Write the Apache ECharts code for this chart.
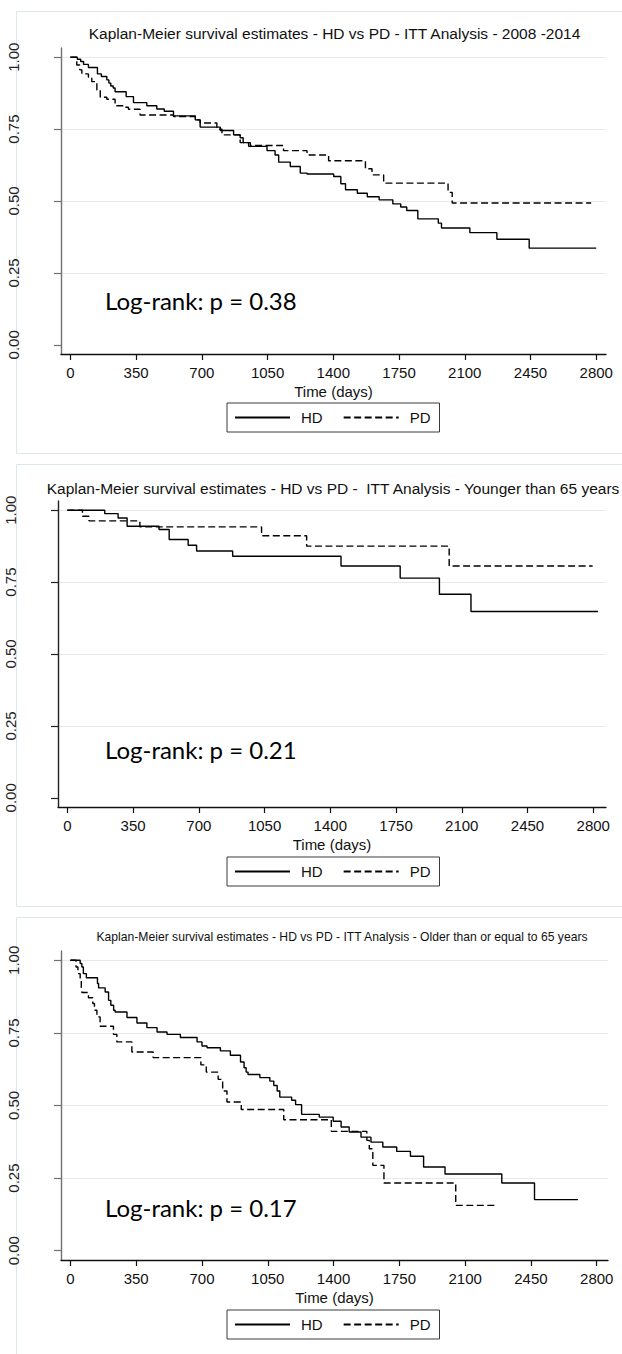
<!DOCTYPE html>
<html>
<head>
<meta charset="utf-8">
<script src="https://cdn.jsdelivr.net/npm/echarts@6/dist/echarts.min.js"></script>
<style>
  html, body { margin: 0; padding: 0; background: #ffffff; }
  #chart { width: 622px; height: 1354px; }
</style>
</head>
<body>
<div id="chart"></div>
<script>
// ---- Axis ticks ----
const yTicks = [0, 0.25, 0.5, 0.75, 1];
const yTickLabels = ['0.00', '0.25', '0.50', '0.75', '1.00'];
const xTicks = [0, 350, 700, 1050, 1400, 1750, 2100, 2450, 2800];
const xAxisTitle = 'Time (days)';
const groupNames = ['HD', 'PD'];

// ---- Panel texts ----
const panelTitles = [
  'Kaplan-Meier survival estimates - HD vs PD - ITT Analysis - 2008 -2014',
  'Kaplan-Meier survival estimates - HD vs PD -  ITT Analysis - Younger than 65 years',
  'Kaplan-Meier survival estimates - HD vs PD - ITT Analysis - Older than or equal to 65 years'
];
const logRankTexts = ['Log-rank: p = 0.38', 'Log-rank: p = 0.21', 'Log-rank: p = 0.17'];

// ---- Survival estimates: all patients, 2008-2014 ----
const hdTimeAll = [0, 37, 55, 70, 96, 144, 165, 194, 205, 215, 228, 238, 297, 336, 407, 460, 500, 549, 665, 691, 798, 869, 904, 920, 949, 1047, 1090, 1109, 1171, 1224, 1260, 1402, 1440, 1465, 1528, 1581, 1644, 1717, 1759, 1791, 1850, 1959, 1976, 2127, 2271, 2443, 2800];
const hdSurvAll = [1.0, 0.993, 0.985, 0.975, 0.964, 0.942, 0.933, 0.921, 0.91, 0.90, 0.893, 0.88, 0.863, 0.842, 0.831, 0.82, 0.812, 0.796, 0.782, 0.757, 0.745, 0.73, 0.72, 0.703, 0.69, 0.675, 0.66, 0.635, 0.62, 0.597, 0.594, 0.585, 0.56, 0.539, 0.527, 0.515, 0.504, 0.49, 0.479, 0.467, 0.438, 0.423, 0.406, 0.39, 0.367, 0.336, 0.336];
const pdTimeAll = [0, 34, 50, 61, 96, 114, 141, 159, 194, 238, 283, 309, 371, 549, 665, 691, 780, 807, 904, 958, 1135, 1260, 1375, 1571, 1606, 1668, 2011, 2033, 2773];
const pdSurvAll = [1.0, 0.973, 0.956, 0.942, 0.93, 0.915, 0.886, 0.861, 0.854, 0.831, 0.826, 0.819, 0.799, 0.794, 0.782, 0.771, 0.75, 0.73, 0.703, 0.693, 0.675, 0.66, 0.64, 0.612, 0.591, 0.562, 0.53, 0.493, 0.493];

// ---- Survival estimates: younger than 65 years ----
const hdTimeYoung = [0, 199, 270, 318, 488, 542, 643, 688, 880, 1457, 1772, 1981, 2149, 2825];
const hdSurvYoung = [1.0, 0.988, 0.973, 0.944, 0.933, 0.898, 0.878, 0.858, 0.84, 0.806, 0.764, 0.708, 0.648, 0.648];
const pdTimeYoung = [0, 80, 115, 386, 1034, 1274, 2033, 2797];
const pdSurvYoung = [1.0, 0.979, 0.963, 0.942, 0.911, 0.875, 0.806, 0.806];

// ---- Survival estimates: 65 years or older ----
const hdTimeOld = [0, 52, 61, 69, 85, 144, 150, 185, 203, 215, 230, 238, 301, 354, 407, 461, 514, 585, 674, 700, 727, 798, 851, 905, 924, 935, 945, 1008, 1061, 1082, 1100, 1114, 1177, 1198, 1230, 1324, 1398, 1440, 1483, 1546, 1599, 1662, 1736, 1809, 1879, 1993, 2295, 2469, 2700];
const hdSurvOld = [1.0, 0.989, 0.977, 0.954, 0.94, 0.92, 0.905, 0.891, 0.862, 0.845, 0.828, 0.822, 0.803, 0.784, 0.768, 0.753, 0.745, 0.734, 0.719, 0.705, 0.699, 0.688, 0.673, 0.65, 0.63, 0.615, 0.607, 0.596, 0.584, 0.569, 0.55, 0.529, 0.518, 0.503, 0.4695, 0.46, 0.446, 0.426, 0.409, 0.391, 0.374, 0.357, 0.342, 0.325, 0.288, 0.264, 0.233, 0.176, 0.176];
const pdTimeOld = [0, 30, 40, 52, 58, 61, 96, 119, 128, 141, 158, 229, 247, 327, 440, 694, 723, 786, 810, 833, 909, 1135, 1388, 1577, 1590, 1609, 1668, 2050, 2274];
const pdSurvOld = [1.0, 0.977, 0.954, 0.931, 0.908, 0.889, 0.871, 0.851, 0.828, 0.805, 0.773, 0.745, 0.719, 0.684, 0.665, 0.64, 0.615, 0.59, 0.55, 0.512, 0.486, 0.451, 0.411, 0.38, 0.351, 0.294, 0.233, 0.156, 0.156];

const panelData = [
  [[hdTimeAll, hdSurvAll], [pdTimeAll, pdSurvAll]],
  [[hdTimeYoung, hdSurvYoung], [pdTimeYoung, pdSurvYoung]],
  [[hdTimeOld, hdSurvOld], [pdTimeOld, pdSurvOld]]
];

// ---- Layout of the three stacked panels ----
const SANS = 'Liberation Sans, Arial, Helvetica, sans-serif';
const panels = [
  { frameTop: 11, frameBottom: 453, grid: { left: 61, top: 48, width: 545, height: 306 }, xMax: 2852,
    titleX: 334.5, titleY: 33, titleSize: 15.5, logY: 300.5, legendTop: 403, yAxisColor: '#707070' },
  { frameTop: 464, frameBottom: 906, grid: { left: 58, top: 501, width: 548, height: 306 }, xMax: 2868,
    titleX: 333, titleY: 488, titleSize: 15.5, logY: 749.5, legendTop: 857, yAxisColor: '#222222' },
  { frameTop: 917, frameBottom: 1400, grid: { left: 61, top: 951, width: 547, height: 309 }, xMax: 2860,
    titleX: 342, titleY: 937, titleSize: 12.15, logY: 1207, legendTop: 1310, yAxisColor: '#707070' }
];

const pairs = (t, s) => t.map((v, i) => [v, s[i]]);

const grids = [], xAxes = [], yAxes = [], series = [], legends = [], graphics = [];

panels.forEach((p, i) => {
  grids.push(Object.assign({ containLabel: false }, p.grid));

  xAxes.push({
    gridIndex: i, type: 'value', min: -50, max: p.xMax,
    name: xAxisTitle, nameLocation: 'middle', nameGap: 30,
    nameTextStyle: { fontSize: 15, color: '#111', fontFamily: SANS },
    axisLine: { onZero: false, lineStyle: { color: '#111', width: 1.3 } },
    axisTick: { show: true, length: 6, customValues: xTicks, lineStyle: { color: '#111', width: 1.2 } },
    axisLabel: { customValues: xTicks, margin: 11, fontSize: 15, color: '#111', fontFamily: SANS,
      formatter: v => String(Math.round(v)) },
    splitLine: { show: false }
  });

  yAxes.push({
    gridIndex: i, type: 'value', min: -0.032, max: 1.032,
    axisLine: { show: true, onZero: false, lineStyle: { color: p.yAxisColor, width: 1.4 } },
    axisTick: { show: true, length: 7, customValues: yTicks, lineStyle: { color: p.yAxisColor, width: 1.2 } },
    axisLabel: {
      customValues: yTicks, rotate: 90, margin: 40, fontSize: 15, color: '#222', fontFamily: SANS,
      formatter: v => yTickLabels[yTicks.indexOf(Math.round(v * 100) / 100)]
    },
    splitLine: { show: true, lineStyle: { width: 1.2, color: ['rgba(0,0,0,0)', '#e3ebee', '#e3ebee', '#e3ebee', '#e3ebee'] } }
  });

  panelData[i].forEach((d, k) => {
    series.push({
      type: 'line', name: groupNames[k], xAxisIndex: i, yAxisIndex: i,
      step: 'end', symbol: 'none', silent: true, animation: false,
      data: pairs(d[0], d[1]),
      itemStyle: { color: '#000' },
      lineStyle: { color: '#000', width: 1.4, type: k === 0 ? 'solid' : [7, 3.5] }
    });
  });

  legends.push({
    data: groupNames, left: 227, top: p.legendTop, orient: 'horizontal',
    itemWidth: 55, itemHeight: 12, itemGap: 20, padding: [7, 9, 7, 7],
    borderColor: '#3a3a3a', borderWidth: 1, selectedMode: false,
    itemStyle: { opacity: 0 },
    textStyle: { fontSize: 15, color: '#111', fontFamily: SANS, padding: [0, 0, 0, 6] }
  });

  // panel frame
  graphics.push({
    type: 'rect', silent: true, z: -10,
    shape: { x: 16.5, y: p.frameTop + 0.5, width: 640, height: p.frameBottom - p.frameTop },
    style: { fill: 'none', stroke: '#dde6ea', lineWidth: 1 }
  });
  // panel title
  graphics.push({
    type: 'text', silent: true, x: p.titleX, y: p.titleY,
    style: { text: panelTitles[i], fill: '#111', fontSize: p.titleSize, fontFamily: SANS, align: 'center', verticalAlign: 'middle' }
  });
  // log-rank annotation
  graphics.push({
    type: 'text', silent: true, x: 105, y: p.logY,
    style: { text: logRankTexts[i], fill: '#000', fontSize: 24, fontFamily: 'Lato, Open Sans, sans-serif', align: 'left', verticalAlign: 'middle' }
  });
});

const chart = echarts.init(document.getElementById('chart'), null, { renderer: 'svg', width: 622, height: 1354 });
chart.setOption({
  animation: false,
  backgroundColor: '#ffffff',
  grid: grids,
  xAxis: xAxes,
  yAxis: yAxes,
  legend: legends,
  series: series,
  graphic: graphics
});
</script>
</body>
</html>
